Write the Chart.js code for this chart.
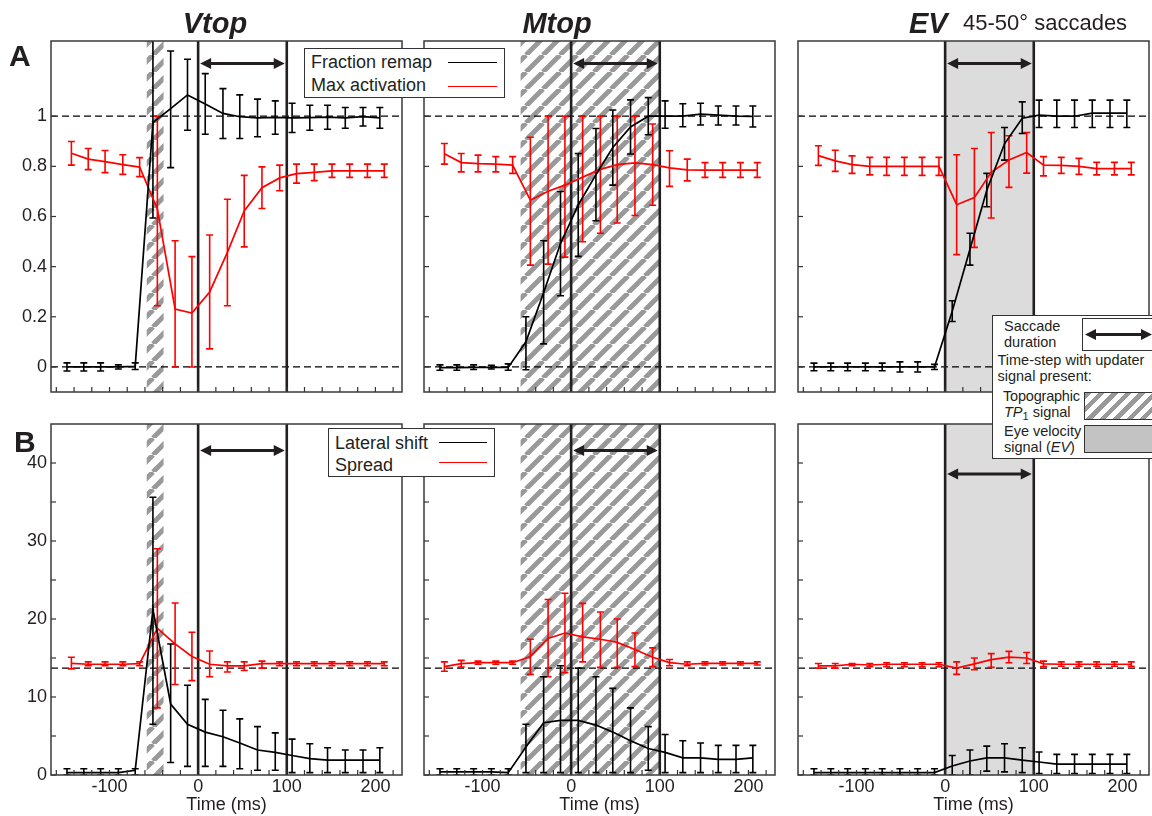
<!DOCTYPE html>
<html><head><meta charset="utf-8">
<script src="https://cdn.jsdelivr.net/npm/chart.js@4.4.1/dist/chart.umd.min.js"></script>
<style>
html,body{margin:0;padding:0;background:#fff;}
body{width:1152px;height:816px;position:relative;overflow:hidden;font-family:"Liberation Sans",Arial,sans-serif;color:#231f20;}
canvas{position:absolute;}
.t{position:absolute;white-space:nowrap;}
.box{position:absolute;box-sizing:border-box;background:#fff;border:1.3px solid #333;}
.ln{position:absolute;height:0;border-top:1.6px solid #000;}
</style></head><body>
<canvas id="c0" width="405" height="391" style="left:0px;top:21px"></canvas>
<canvas id="c1" width="405" height="391" style="left:373px;top:21px"></canvas>
<canvas id="c2" width="405" height="391" style="left:747px;top:21px"></canvas>
<canvas id="c3" width="405" height="412" style="left:0px;top:404px"></canvas>
<canvas id="c4" width="405" height="412" style="left:373px;top:404px"></canvas>
<canvas id="c5" width="405" height="412" style="left:747px;top:404px"></canvas>

<div class="t" style="left:215px;top:6px;font-size:29px;line-height:34px;font-weight:bold;font-style:italic;transform:translateX(-50%)">Vtop</div>
<div class="t" style="left:557px;top:6px;font-size:29px;line-height:34px;font-weight:bold;font-style:italic;transform:translateX(-50%)">Mtop</div>
<div class="t" style="left:909px;top:6px;font-size:29px;line-height:34px;font-weight:bold;font-style:italic">EV</div>
<div class="t" style="left:963px;top:10px;font-size:22px;line-height:26px">45-50° saccades</div>
<div class="t" style="left:9px;top:39px;font-size:30px;line-height:34px;font-weight:bold">A</div>
<div class="t" style="left:14px;top:425px;font-size:30px;line-height:34px;font-weight:bold">B</div>

<div class="box" style="left:304px;top:48px;width:201px;height:50px"></div>
<div class="t" style="left:311px;top:51px;font-size:18px;line-height:22px">Fraction remap</div>
<div class="t" style="left:311px;top:74px;font-size:18px;line-height:22px">Max activation</div>
<div class="ln" style="left:448px;top:61.5px;width:49px;border-top-color:#000"></div>
<div class="ln" style="left:448px;top:85.5px;width:49px;border-top-color:#ff0000"></div>

<div class="box" style="left:328px;top:427.5px;width:167px;height:49px"></div>
<div class="t" style="left:335px;top:431.5px;font-size:18px;line-height:22px">Lateral shift</div>
<div class="t" style="left:335px;top:454px;font-size:18px;line-height:22px">Spread</div>
<div class="ln" style="left:439px;top:441.5px;width:48px;border-top-color:#000"></div>
<div class="ln" style="left:439px;top:462px;width:48px;border-top-color:#ff0000"></div>

<div class="box" style="left:991.5px;top:315px;width:180px;height:144px"></div>
<div class="t" style="left:1004px;top:317px;font-size:14.5px;line-height:18px">Saccade</div>
<div class="t" style="left:1004px;top:332.5px;font-size:14.5px;line-height:18px">duration</div>
<div class="box" style="left:1082px;top:318px;width:90px;height:33px;border-width:1px"></div>
<svg style="position:absolute;left:1082px;top:318px" width="80" height="33">
<line x1="10" y1="16.5" x2="62" y2="16.5" stroke="#231f20" stroke-width="3"/>
<polygon points="3,16.5 14,11 14,22" fill="#231f20"/>
<polygon points="70,16.5 59,11 59,22" fill="#231f20"/>
</svg>
<div class="t" style="left:997.5px;top:350.7px;font-size:14.5px;line-height:18px">Time-step with updater</div>
<div class="t" style="left:997.5px;top:367px;font-size:14.5px;line-height:18px">signal present:</div>
<div class="t" style="left:1003px;top:386.7px;font-size:14.5px;line-height:18px;letter-spacing:-0.2px">Topographic</div>
<div class="t" style="left:1004px;top:403px;font-size:14.5px;line-height:18px"><i>TP</i><sub style="font-size:11px;vertical-align:-3px">1</sub> signal</div>
<div class="box" style="left:1084px;top:392px;width:90px;height:27.5px;border-width:1px;background:repeating-linear-gradient(135deg,#999 0 4.5px,#fff 4.5px 9.5px)"></div>
<div class="t" style="left:1004px;top:422.3px;font-size:14.5px;line-height:18px">Eye velocity</div>
<div class="t" style="left:1004px;top:438.3px;font-size:14.5px;line-height:18px">signal (<i>EV</i>)</div>
<div class="box" style="left:1084px;top:424.5px;width:90px;height:28.5px;border-width:1px;background:#c3c3c3"></div>

<script>
// ---- time steps (ms) ----
const timesBlack = [-148,-129,-110,-90,-71,-51,-31,-12,8,28,47,67,87,106,126,146,166,186,205];
const timesRed   = [-143,-124,-105,-85,-66,-46,-26,-7,13,33,52,72,92,111,131,151,171,191,210];

// ---- tick values / labels ----
const xTicks = [-160,-140,-120,-100,-80,-60,-40,-20,0,20,40,60,80,100,120,140,160,180,200,220];
const xTickLabels = ['','','','-100','','','','','0','','','','','100','','','','','200',''];
const yTicksA = [0,0.2,0.4,0.6,0.8,1];
const yTickLabelsA = ['0','0.2','0.4','0.6','0.8','1'];
const yTicksB = [0,5,10,15,20,25,30,35,40];
const yTickLabelsB = ['0','','10','','20','','30','','40'];

// ---- event windows ----
const saccadeWindow = [0,100];
const vtopTP1Window = [-58,-39];
const mtopTP1Window = [-57,100];
const evWindow = [0,100];
const refLinesA = [0,1];
const refLinesB = [13.7];

// ---- Row A: Fraction remap (black) / Max activation (red) ----
const vtopRemap   = [0,0,0,0,0.002,0.975,1.03,1.085,1.049,1.011,0.998,0.993,0.995,0.993,0.994,0.996,0.993,0.998,0.993];
const vtopRemapLo = [-0.016,-0.016,-0.016,-0.008,-0.01,0.594,0.795,0.944,0.928,0.911,0.911,0.918,0.928,0.935,0.944,0.948,0.952,0.961,0.952];
const vtopRemapHi = [0.016,0.016,0.016,0.008,0.016,1.36,1.26,1.227,1.17,1.11,1.085,1.068,1.061,1.052,1.044,1.044,1.035,1.035,1.035];
const vtopAct     = [0.852,0.829,0.819,0.807,0.797,0.63,0.231,0.215,0.299,0.457,0.622,0.715,0.754,0.771,0.776,0.782,0.782,0.782,0.782];
const vtopActLo   = [0.805,0.787,0.775,0.768,0.759,0.244,0,0,0.072,0.244,0.479,0.632,0.703,0.733,0.743,0.756,0.756,0.756,0.756];
const vtopActHi   = [0.899,0.871,0.863,0.846,0.835,1.0,0.503,0.44,0.526,0.669,0.764,0.798,0.805,0.809,0.809,0.809,0.809,0.809,0.809];

const mtopRemap   = [-0.003,-0.003,-0.002,-0.002,-0.002,0.1,0.297,0.492,0.646,0.767,0.875,0.957,1.0,1.0,1.0,1.008,1.004,1.0,0.999];
const mtopRemapLo = [-0.013,-0.013,-0.01,-0.008,-0.013,-0.011,0.092,0.284,0.441,0.583,0.725,0.849,0.926,0.952,0.958,0.965,0.965,0.965,0.957];
const mtopRemapHi = [0.008,0.008,0.008,0.006,0.012,0.2,0.503,0.7,0.851,0.951,1.025,1.065,1.074,1.061,1.05,1.052,1.041,1.041,1.041];
const mtopAct     = [0.85,0.815,0.811,0.809,0.805,0.665,0.701,0.725,0.757,0.788,0.807,0.814,0.807,0.794,0.786,0.785,0.785,0.785,0.785];
const mtopActLo   = [0.809,0.778,0.778,0.778,0.772,0.406,0.41,0.438,0.499,0.533,0.574,0.604,0.645,0.72,0.742,0.756,0.756,0.756,0.756];
const mtopActHi   = [0.891,0.851,0.845,0.839,0.839,0.916,1.0,1.0,1.0,1.0,1.0,1.0,0.969,0.862,0.829,0.815,0.815,0.815,0.815];

const evRemap     = [0,0,0,0,0,0,0,0,0.222,0.469,0.705,0.89,0.992,1.004,1.0,1.0,1.012,1.012,1.012];
const evRemapLo   = [-0.015,-0.015,-0.015,-0.015,-0.015,-0.02,-0.02,-0.01,0.181,0.406,0.639,0.825,0.931,0.955,0.955,0.955,0.955,0.955,0.955];
const evRemapHi   = [0.015,0.015,0.015,0.015,0.015,0.02,0.02,0.01,0.264,0.533,0.772,0.955,1.057,1.064,1.064,1.064,1.064,1.064,1.064];
const evAct       = [0.843,0.822,0.807,0.8,0.8,0.8,0.8,0.8,0.647,0.676,0.776,0.825,0.855,0.805,0.804,0.8,0.791,0.791,0.791];
const evActLo     = [0.804,0.78,0.772,0.766,0.764,0.764,0.764,0.764,0.448,0.477,0.594,0.716,0.773,0.762,0.772,0.768,0.766,0.766,0.766];
const evActHi     = [0.882,0.864,0.842,0.836,0.836,0.836,0.836,0.836,0.846,0.871,0.935,0.922,0.935,0.839,0.836,0.832,0.816,0.816,0.816];

// ---- Row B: Lateral shift (black) / Spread (red) ----
const vtopShift   = [0.3,0.3,0.3,0.3,0.6,21.2,9.1,6.5,5.5,4.9,4.1,3.2,2.9,2.5,2.1,1.9,1.9,1.9,1.9];
const vtopShiftLo = [0,0,0,0,0,6.5,1.6,1.1,1.1,1.1,0.8,0.6,0.6,0.3,0.3,0.3,0.3,0.3,0.3];
const vtopShiftHi = [0.8,0.8,0.8,0.8,0.8,35.6,16.8,11.5,9.7,8.3,7.2,6.2,5.4,4.6,4.0,3.5,3.2,3.2,3.5];
const vtopSpread  = [14.3,14.2,14.2,14.2,14.27,18.8,16.8,15.2,14.2,14.0,14.0,14.27,14.27,14.27,14.27,14.27,14.27,14.27,14.27];
const vtopSpreadLo= [13.6,14.0,14.0,14.0,14.0,8.6,11.6,12.1,12.6,13.2,13.4,13.7,14.0,14.0,14.0,14.0,14.0,14.0,14.0];
const vtopSpreadHi= [15.1,14.5,14.5,14.5,14.5,29.0,22.05,18.3,15.9,14.5,14.5,14.6,14.5,14.5,14.5,14.5,14.5,14.5,14.5];

const mtopShift   = [0.4,0.4,0.4,0.4,0.3,3.6,6.7,7.0,7.0,6.4,5.5,4.4,3.4,2.9,2.2,2.2,2.0,2.0,2.2];
const mtopShiftLo = [0,0,0,0,0,0.3,0.3,0.3,0.3,0.3,0.3,0.3,0.6,0.3,0.3,0.3,0.3,0.3,0.3];
const mtopShiftHi = [0.8,0.8,0.8,0.8,0.8,6.5,12.6,14.0,13.7,12.6,11.1,8.6,6.2,5.2,4.4,4.1,3.8,3.8,3.8];
const mtopSpread  = [13.9,14.27,14.4,14.4,14.4,15.2,17.5,18.2,17.7,17.4,17.0,16.1,15.1,14.4,14.2,14.3,14.3,14.3,14.3];
const mtopSpreadLo= [13.3,13.85,14.2,14.2,14.2,12.9,12.6,13.1,14.5,13.8,13.8,13.9,13.9,14.0,14.0,14.1,14.1,14.1,14.1];
const mtopSpreadHi= [14.5,14.7,14.6,14.6,14.6,17.4,22.5,23.3,22.0,20.9,20.0,18.2,16.3,14.8,14.5,14.5,14.5,14.5,14.5];

const evShift     = [0.3,0.3,0.3,0.3,0.3,0.3,0.3,0.3,1.15,1.8,2.2,2.2,1.9,1.67,1.4,1.4,1.4,1.4,1.4];
const evShiftLo   = [0,0,0,0,0,0,0,0,0,0,0.5,0.4,0.3,0.2,0.2,0.2,0.2,0.2,0.2];
const evShiftHi   = [0.8,0.8,0.8,0.8,0.8,0.8,0.8,0.8,2.5,3.2,3.7,4.0,3.5,2.95,2.65,2.65,2.65,2.65,2.65];
const evSpread    = [14.0,14.0,14.2,14.1,14.2,14.2,14.2,14.2,13.7,14.25,14.8,15.1,15.0,14.25,14.2,14.2,14.2,14.2,14.2];
const evSpreadLo  = [13.7,13.7,14.0,13.9,13.9,13.9,13.9,13.9,12.9,13.5,13.8,14.4,14.3,13.9,13.95,13.95,13.95,13.95,13.95];
const evSpreadHi  = [14.3,14.3,14.3,14.3,14.4,14.4,14.4,14.4,14.5,15.0,15.56,15.85,15.7,14.6,14.5,14.5,14.5,14.5,14.5];

const arrowYA = 1.21, arrowYB = 41.6, arrowYEvB = 38.6;

const INK = '#231f20';
const PAD_T = 20;
function patternFor(ctx, p){
  const c = document.createElement('canvas'); c.width = p; c.height = p;
  const g = c.getContext('2d');
  g.strokeStyle = '#999999'; g.lineWidth = p*0.29;
  for (const k of [-p,0,p]) { g.beginPath(); g.moveTo(k, p); g.lineTo(k+p, 0); g.stroke(); }
  return ctx.createPattern(c, 'repeat');
}

const deco = {
  id: 'deco',
  beforeDatasetsDraw(chart, args, o) {
    const {ctx, chartArea: a, scales: {x, y}} = chart;
    const w = a.right - a.left, h = a.bottom - a.top;
    ctx.save();
    ctx.beginPath(); ctx.rect(a.left, a.top, w, h); ctx.clip();
    if (o.grey) {
      const x0 = x.getPixelForValue(o.grey[0]), x1 = x.getPixelForValue(o.grey[1]);
      ctx.fillStyle = '#dcdcdc'; ctx.fillRect(x0, a.top, x1 - x0, h);
    }
    if (o.hatch) {
      const x0 = x.getPixelForValue(o.hatch[0]), x1 = x.getPixelForValue(o.hatch[1]);
      ctx.fillStyle = patternFor(ctx, o.period || 17); ctx.fillRect(x0, a.top, x1 - x0, h);
    }
    ctx.setLineDash([7,4]); ctx.lineWidth = 1.2; ctx.strokeStyle = '#000';
    o.refLines.forEach(v => { const py = y.getPixelForValue(v); ctx.beginPath(); ctx.moveTo(a.left, py); ctx.lineTo(a.right, py); ctx.stroke(); });
    ctx.setLineDash([]);
    ctx.lineWidth = 2.6; ctx.strokeStyle = INK;
    o.vlines.forEach(v => { const px = x.getPixelForValue(v); ctx.beginPath(); ctx.moveTo(px, a.top); ctx.lineTo(px, a.bottom); ctx.stroke(); });
    // error bars
    for (let di = chart.data.datasets.length - 1; di >= 0; di--) {
      const ds = chart.data.datasets[di], meta = chart.getDatasetMeta(di);
      ctx.strokeStyle = ds.borderColor; ctx.lineWidth = 1.6;
      meta.data.forEach((pt, i) => {
        const px = pt.x, y0 = y.getPixelForValue(ds.errLo[i]), y1 = y.getPixelForValue(ds.errHi[i]);
        ctx.beginPath();
        ctx.moveTo(px, y0); ctx.lineTo(px, y1);
        ctx.moveTo(px - 3.5, y0); ctx.lineTo(px + 3.5, y0);
        ctx.moveTo(px - 3.5, y1); ctx.lineTo(px + 3.5, y1);
        ctx.stroke();
      });
    }
    ctx.restore();
  },
  afterDatasetsDraw(chart, args, o) {
    const {ctx, chartArea: a, scales: {x, y}} = chart;
    ctx.save();
    // double arrow for saccade duration
    const ax0 = x.getPixelForValue(o.vlines[0]) + 2, ax1 = x.getPixelForValue(o.vlines[1]) - 2, ay = y.getPixelForValue(o.arrowY);
    ctx.strokeStyle = INK; ctx.fillStyle = INK; ctx.lineWidth = 3;
    ctx.beginPath(); ctx.moveTo(ax0 + 8, ay); ctx.lineTo(ax1 - 8, ay); ctx.stroke();
    ctx.beginPath(); ctx.moveTo(ax0, ay); ctx.lineTo(ax0 + 11, ay - 5.5); ctx.lineTo(ax0 + 11, ay + 5.5); ctx.closePath(); ctx.fill();
    ctx.beginPath(); ctx.moveTo(ax1, ay); ctx.lineTo(ax1 - 11, ay - 5.5); ctx.lineTo(ax1 - 11, ay + 5.5); ctx.closePath(); ctx.fill();
    // inward ticks
    ctx.strokeStyle = '#333'; ctx.lineWidth = 1.2;
    x.ticks.forEach(t => { const px = x.getPixelForValue(t.value); ctx.beginPath(); ctx.moveTo(px, a.bottom); ctx.lineTo(px, a.bottom - 5); ctx.stroke(); });
    y.ticks.forEach(t => { const py = y.getPixelForValue(t.value); ctx.beginPath(); ctx.moveTo(a.left, py); ctx.lineTo(a.left + 5, py); ctx.stroke(); });
    // frame
    ctx.strokeStyle = '#3a3a3a'; ctx.lineWidth = 1.5;
    ctx.strokeRect(a.left, a.top, a.right - a.left, a.bottom - a.top);
    ctx.restore();
  }
};

Chart.defaults.font.family = '"Liberation Sans", Arial, sans-serif';
Chart.defaults.font.size = 18;
Chart.defaults.color = INK;

const pts = (ts, vs) => ts.map((t, i) => ({x: t, y: vs[i]}));

function makePanel(id, rowB, showY, black, red, extra) {
  const yTicks = rowB ? yTicksB : yTicksA;
  const yLabels = rowB ? yTickLabelsB : yTickLabelsA;
  new Chart(document.getElementById(id), {
    type: 'line',
    data: { datasets: [
      { data: pts(timesBlack, black[0]), errLo: black[1], errHi: black[2], borderColor: '#000000', borderWidth: 1.7, pointRadius: 0, tension: 0 },
      { data: pts(timesRed, red[0]), errLo: red[1], errHi: red[2], borderColor: '#ff0000', borderWidth: 1.7, pointRadius: 0, tension: 0 }
    ]},
    options: {
      responsive: false, animation: false, devicePixelRatio: 1,
      layout: { padding: { top: PAD_T, right: 3, left: 0, bottom: 0 } },
      plugins: { legend: { display: false }, tooltip: { enabled: false }, deco: Object.assign({ vlines: saccadeWindow, refLines: rowB ? refLinesB : refLinesA }, extra) },
      scales: {
        x: { type: 'linear', min: -166, max: 230,
             grid: { display: false, drawTicks: false }, border: { display: false },
             afterBuildTicks: s => { s.ticks = xTicks.map(v => ({ value: v })); },
             afterFit: s => { s.height = rowB ? 41 : 20; },
             ticks: { display: rowB, autoSkip: false, maxRotation: 0, minRotation: 0, padding: 1,
                      callback: v => { const i = xTicks.indexOf(v); return i < 0 ? '' : xTickLabels[i]; } },
             title: { display: rowB, text: 'Time (ms)', padding: 0 } },
        y: { type: 'linear', min: rowB ? 0 : -0.1, max: rowB ? 45 : 1.3,
             grid: { display: false, drawTicks: false }, border: { display: false },
             afterBuildTicks: s => { s.ticks = yTicks.map(v => ({ value: v })); },
             afterFit: s => { s.width = 51; },
             ticks: { display: showY, autoSkip: false, padding: 4,
                      callback: v => { const i = yTicks.indexOf(v); return i < 0 ? '' : yLabels[i]; } } }
      }
    },
    plugins: [deco]
  });
}

makePanel('c0', false, true,  [vtopRemap, vtopRemapLo, vtopRemapHi], [vtopAct, vtopActLo, vtopActHi], { hatch: vtopTP1Window, period: 17, arrowY: arrowYA });
makePanel('c1', false, false, [mtopRemap, mtopRemapLo, mtopRemapHi], [mtopAct, mtopActLo, mtopActHi], { hatch: mtopTP1Window, period: 17, arrowY: arrowYA });
makePanel('c2', false, false, [evRemap, evRemapLo, evRemapHi], [evAct, evActLo, evActHi], { grey: evWindow, arrowY: arrowYA });
makePanel('c3', true,  true,  [vtopShift, vtopShiftLo, vtopShiftHi], [vtopSpread, vtopSpreadLo, vtopSpreadHi], { hatch: vtopTP1Window, period: 17, arrowY: arrowYB });
makePanel('c4', true,  false, [mtopShift, mtopShiftLo, mtopShiftHi], [mtopSpread, mtopSpreadLo, mtopSpreadHi], { hatch: mtopTP1Window, period: 17, arrowY: arrowYB });
makePanel('c5', true,  false, [evShift, evShiftLo, evShiftHi], [evSpread, evSpreadLo, evSpreadHi], { grey: evWindow, arrowY: arrowYEvB });
</script>
</body></html>
